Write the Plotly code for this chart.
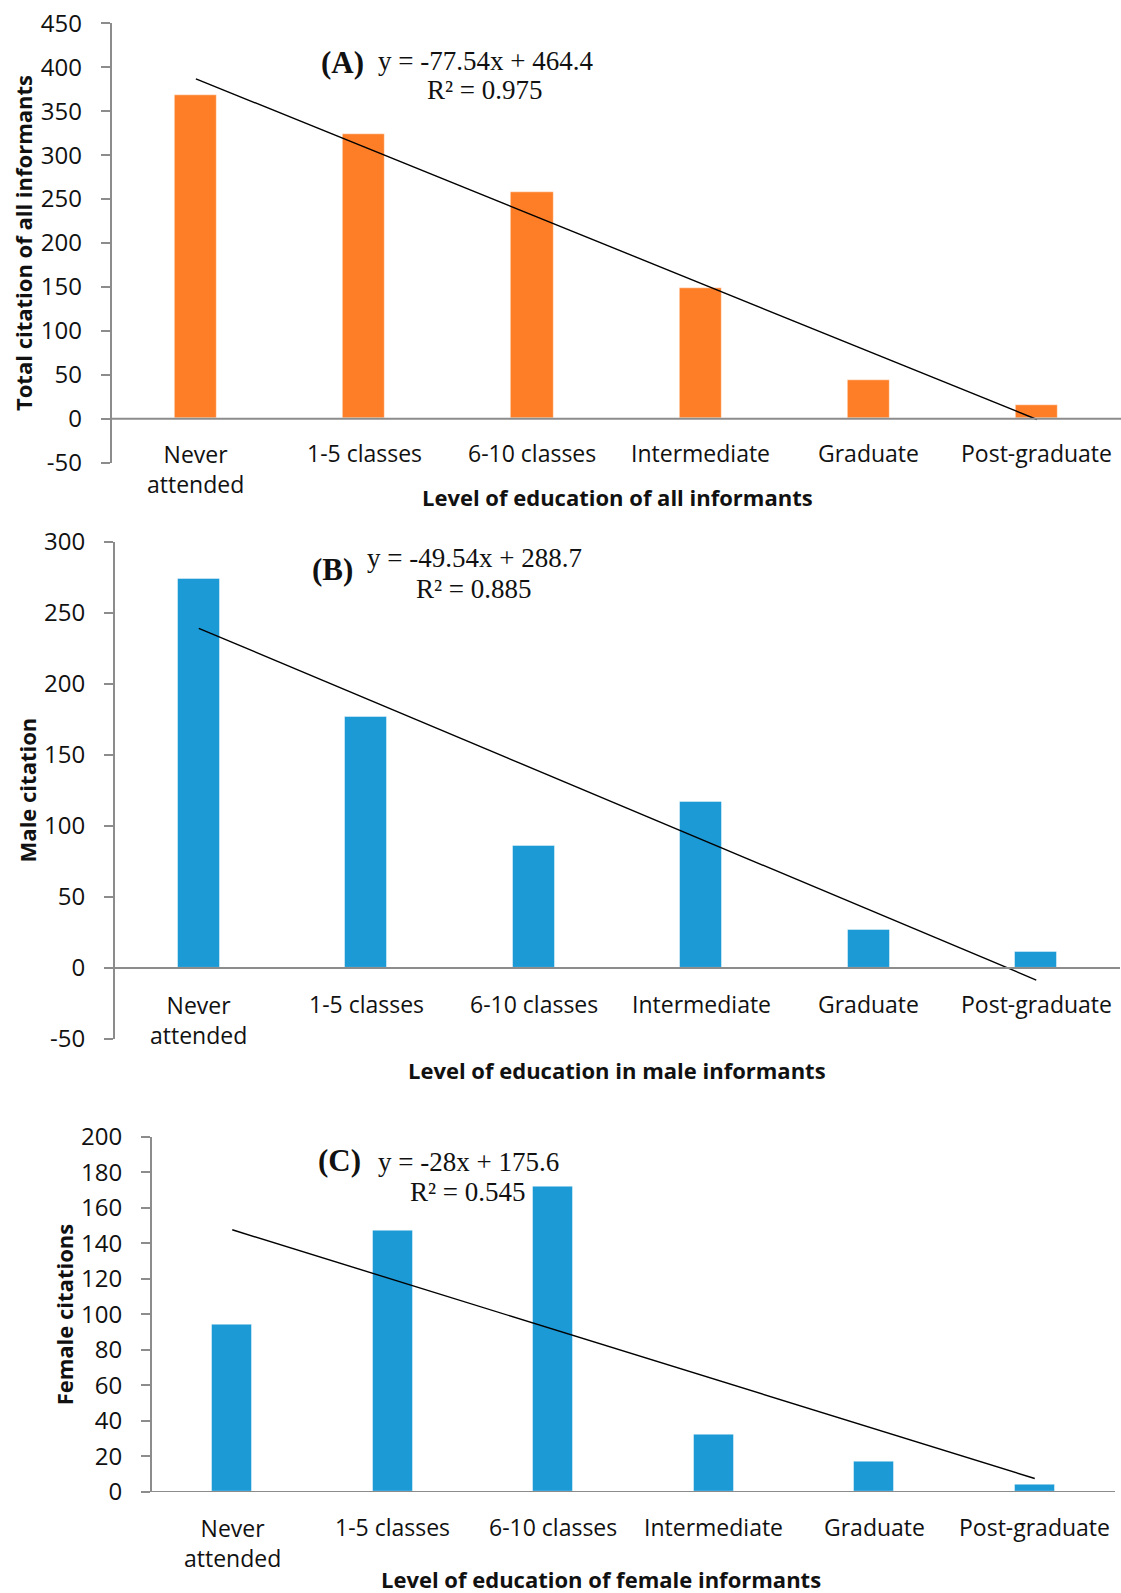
import plotly.graph_objects as go

# ---- data -------------------------------------------------------------
categories = ["Never attended", "1-5 classes", "6-10 classes",
              "Intermediate", "Graduate", "Post-graduate"]
category_labels = ["Never<br>attended", "1-5 classes", "6-10 classes",
                   "Intermediate", "Graduate", "Post-graduate"]

all_citations = [368, 324, 258, 149, 44, 15]
male_citations = [274, 177, 86, 117, 27, 11]
female_citations = [94, 147, 172, 32, 17, 4]

# linear trend fits (x = 1..6): slope, intercept, R²
fit_all = (-77.54, 464.4, 0.975)
fit_male = (-49.54, 288.7, 0.885)
fit_female = (-28.0, 175.6, 0.545)

y_ticks_all = list(range(-50, 451, 50))
y_ticks_male = list(range(-50, 301, 50))
y_ticks_female = list(range(0, 201, 20))

# ---- styling ----------------------------------------------------------
W, H = 1121, 1593
ORANGE = "#FD7E27"
BLUE = "#1C9AD6"
GREY = "#8C8C8C"
TEXT = "#111111"
SANS = "Open Sans"
SERIF = "Liberation Serif"


def py(px):
    """Pixel row (from top) to paper fraction."""
    return 1 - px / H


def pxx(px):
    return px / W


panels = [
    dict(vals=all_citations, fit=fit_all, color=ORANGE, tag="(A)",
         xdom=(111.8, 1121), ytop=23.3, ybot=462.7, yrange=(-50, 450),
         ticks=y_ticks_all, ytitle="Total citation of all informants",
         ytitle_x=23, xtitle="Level of education of all informants",
         xtitle_pos=(617, 497), label_y=453,
         tag_pos=(342, 63), eq_pos=(485, 61), r2_pos=(485, 90)),
    dict(vals=male_citations, fit=fit_male, color=BLUE, tag="(B)",
         xdom=(115, 1120), ytop=541.9, ybot=1038.9, yrange=(-50, 300),
         ticks=y_ticks_male, ytitle="Male citation",
         ytitle_x=27, xtitle="Level of education in male informants",
         xtitle_pos=(617, 1070), label_y=1004,
         tag_pos=(332, 570), eq_pos=(474, 558), r2_pos=(474, 589)),
    dict(vals=female_citations, fit=fit_female, color=BLUE, tag="(C)",
         xdom=(152, 1115), ytop=1136.7, ybot=1492, yrange=(0, 200),
         ticks=y_ticks_female, ytitle="Female citations",
         ytitle_x=64, xtitle="Level of education of female informants",
         xtitle_pos=(601, 1579), label_y=1527,
         tag_pos=(339, 1160), eq_pos=(468, 1162), r2_pos=(468, 1192)),
]

fig = go.Figure()
annotations = []
shapes = []

for i, p in enumerate(panels, start=1):
    xa = "x" if i == 1 else f"x{i}"
    ya = "y" if i == 1 else f"y{i}"
    xkey = "xaxis" if i == 1 else f"xaxis{i}"
    ykey = "yaxis" if i == 1 else f"yaxis{i}"

    fig.add_trace(go.Bar(
        x=categories, y=p["vals"], xaxis=xa, yaxis=ya,
        marker=dict(color=p["color"], line=dict(color="rgba(255,255,255,0.45)", width=1)),
        width=0.25, showlegend=False, hoverinfo="x+y",
    ))

    slope, intercept, r2 = p["fit"]
    fig.add_trace(go.Scatter(
        x=[categories[0], categories[-1]],
        y=[slope * 1 + intercept, slope * len(categories) + intercept],
        xaxis=xa, yaxis=ya, mode="lines",
        line=dict(color="black", width=1.4), showlegend=False, hoverinfo="skip",
    ))

    fig.layout[xkey] = dict(
        domain=[pxx(p["xdom"][0]), pxx(p["xdom"][1])], anchor=ya,
        type="category", range=[-0.5, len(categories) - 0.5],
        showline=False, showticklabels=False, ticks="", showgrid=False,
        zeroline=False, fixedrange=True, automargin=False,
    )
    fig.layout[ykey] = dict(
        domain=[py(p["ybot"]), py(p["ytop"])], anchor=xa,
        range=list(p["yrange"]), tickvals=p["ticks"],
        ticktext=[str(t) for t in p["ticks"]],
        showline=True, linecolor=GREY, linewidth=2,
        ticks="outside", ticklen=9, tickwidth=2, tickcolor=GREY,
        ticklabelstandoff=14,
        showgrid=False, zeroline=False, automargin=False,
        tickfont=dict(family=SANS, size=24, color=TEXT),
        fixedrange=True,
    )

    # horizontal category axis drawn at y = 0
    shapes.append(dict(type="line", xref=f"{xa} domain", yref=ya,
                       x0=0, x1=1, y0=0, y1=0,
                       line=dict(color=GREY, width=2), layer="above"))

    # category labels sit under the zero line
    for cat, lab in zip(categories, category_labels):
        two = "<br>" in lab
        annotations.append(dict(
            x=cat, xref=xa, y=py(p["label_y"] + (16 if two else 0)), yref="paper",
            text=lab, showarrow=False, xanchor="center", yanchor="middle",
            font=dict(family=SANS, size=23, color=TEXT),
        ))

    # axis titles
    annotations.append(dict(
        x=pxx(p["xtitle_pos"][0]), y=py(p["xtitle_pos"][1]),
        xref="paper", yref="paper", text=f"<b>{p['xtitle']}</b>",
        showarrow=False, xanchor="center", yanchor="middle",
        font=dict(family=SANS, size=22, color=TEXT),
    ))
    annotations.append(dict(
        x=pxx(p["ytitle_x"]), y=(py(p["ytop"]) + py(p["ybot"])) / 2,
        xref="paper", yref="paper", text=f"<b>{p['ytitle']}</b>",
        textangle=-90, showarrow=False, xanchor="center", yanchor="middle",
        font=dict(family=SANS, size=22, color=TEXT),
    ))

    # panel tag and trend equation
    annotations.append(dict(
        x=pxx(p["tag_pos"][0]), y=py(p["tag_pos"][1]), xref="paper", yref="paper",
        text=f"<b>{p['tag']}</b>", showarrow=False,
        xanchor="center", yanchor="middle",
        font=dict(family=SERIF, size=31, color=TEXT),
    ))
    sign = "+" if intercept >= 0 else "-"
    annotations.append(dict(
        x=pxx(p["eq_pos"][0]), y=py(p["eq_pos"][1]), xref="paper", yref="paper",
        text=f"y = {slope:g}x {sign} {abs(intercept):g}", showarrow=False,
        xanchor="center", yanchor="middle",
        font=dict(family=SERIF, size=27, color=TEXT),
    ))
    annotations.append(dict(
        x=pxx(p["r2_pos"][0]), y=py(p["r2_pos"][1]), xref="paper", yref="paper",
        text=f"R² = {r2:.3f}", showarrow=False,
        xanchor="center", yanchor="middle",
        font=dict(family=SERIF, size=27, color=TEXT),
    ))

fig.update_layout(
    width=W, height=H,
    margin=dict(l=0, r=0, t=0, b=0, pad=0, autoexpand=False),
    paper_bgcolor="white", plot_bgcolor="white",
    annotations=annotations, shapes=shapes,
    bargap=0, showlegend=False,
)

fig.write_html("out.html", config={"displayModeBar": False})
